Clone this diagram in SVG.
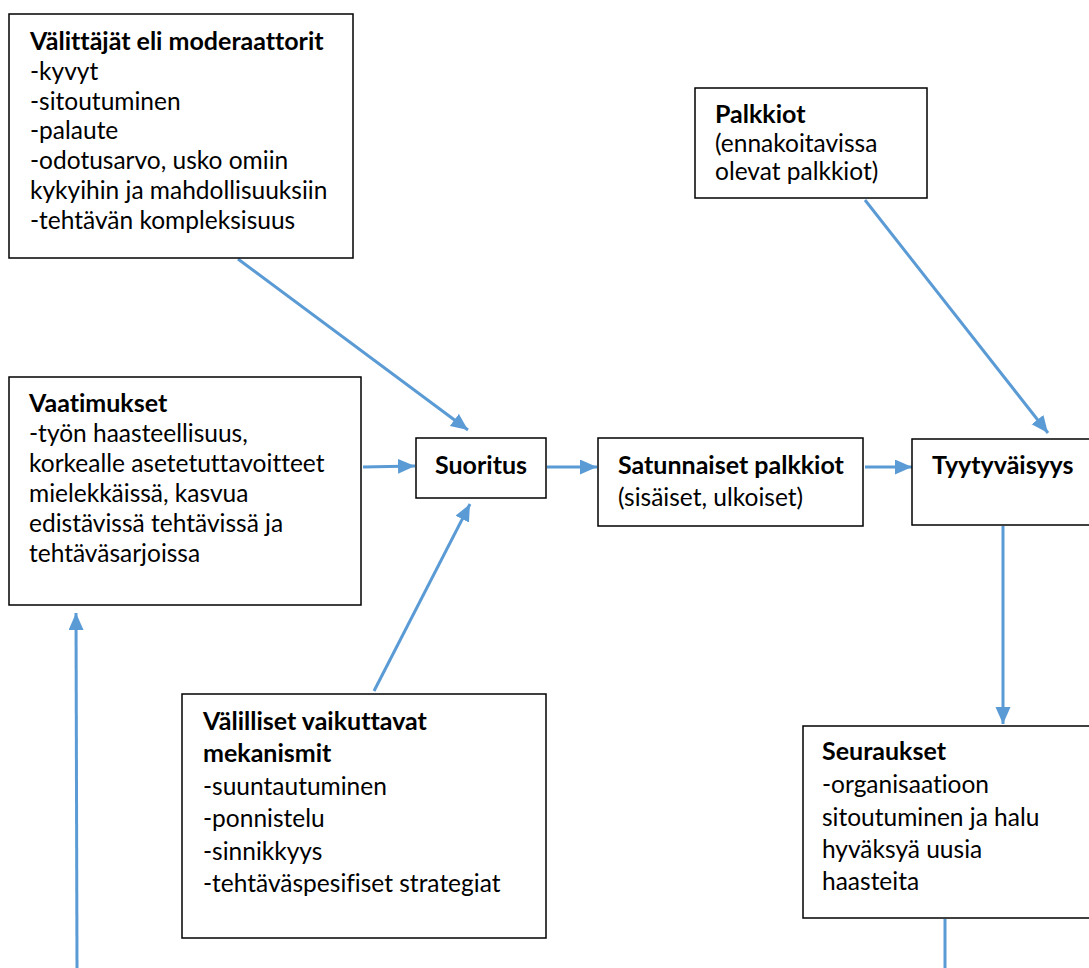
<svg xmlns="http://www.w3.org/2000/svg" width="1089" height="968" viewBox="0 0 1089 968">
<style>
.box{fill:#fff;stroke:#000;stroke-width:1.5}
text{font-family:Lato,"Liberation Sans",sans-serif;font-size:24.5px;fill:#000;font-variant-ligatures:none}
.b{font-weight:bold;font-size:25px}
.c{stroke:#5B9BD5;stroke-width:3;fill:none}
</style>
<defs>
<marker id="ah" markerUnits="userSpaceOnUse" markerWidth="18" markerHeight="16" refX="17" refY="7.5" orient="auto">
<path d="M0,0 L17,7.5 L0,15 z" fill="#5B9BD5"/>
</marker>
</defs>
<rect width="1089" height="968" fill="#fff"/>
<g id="connectors">
<line class="c" x1="238" y1="259" x2="468" y2="430" marker-end="url(#ah)"/>
<line class="c" x1="363" y1="467" x2="415" y2="466" marker-end="url(#ah)"/>
<line class="c" x1="374" y1="691" x2="470" y2="504" marker-end="url(#ah)"/>
<line class="c" x1="547" y1="467" x2="597" y2="467" marker-end="url(#ah)"/>
<line class="c" x1="865" y1="467" x2="912" y2="467" marker-end="url(#ah)"/>
<line class="c" x1="865" y1="200" x2="1048" y2="433" marker-end="url(#ah)"/>
<line class="c" x1="1003" y1="526" x2="1003" y2="724" marker-end="url(#ah)"/>
<line class="c" x1="945" y1="919" x2="945" y2="968"/>
<line class="c" x1="77" y1="968" x2="76" y2="613" marker-end="url(#ah)"/>
</g>
<g id="valittajat">
<rect class="box" x="9" y="14" width="344" height="244"/>
<text x="30" y="50" class="b">Välittäjät eli moderaattorit</text>
<text x="30" y="80">-kyvyt</text>
<text x="30" y="110">-sitoutuminen</text>
<text x="30" y="139">-palaute</text>
<text x="30" y="169">-odotusarvo, usko omiin</text>
<text x="30" y="199">kykyihin ja mahdollisuuksiin</text>
<text x="30" y="229">-tehtävän kompleksisuus</text>
</g>
<g id="vaatimukset">
<rect class="box" x="9" y="377" width="352" height="228"/>
<text x="29" y="412" class="b">Vaatimukset</text>
<text x="29" y="442">-työn haasteellisuus,</text>
<text x="29" y="472">korkealle asetetuttavoitteet</text>
<text x="29" y="502">mielekkäissä, kasvua</text>
<text x="29" y="532">edistävissä tehtävissä ja</text>
<text x="29" y="562">tehtäväsarjoissa</text>
</g>
<g id="suoritus">
<rect class="box" x="416" y="438" width="130" height="60"/>
<text x="435" y="474" class="b">Suoritus</text>
</g>
<g id="satunnaiset">
<rect class="box" x="598" y="438" width="265" height="88"/>
<text x="618" y="474" class="b">Satunnaiset palkkiot</text>
<text x="618" y="506">(sisäiset, ulkoiset)</text>
</g>
<g id="tyytyvaisyys">
<rect class="box" x="912" y="439" width="200" height="86"/>
<text x="932" y="474" class="b">Tyytyväisyys</text>
</g>
<g id="palkkiot">
<rect class="box" x="695" y="88" width="232" height="110"/>
<text x="715" y="123" class="b">Palkkiot</text>
<text x="715" y="152">(ennakoitavissa</text>
<text x="715" y="180">olevat palkkiot)</text>
</g>
<g id="valilliset">
<rect class="box" x="182" y="694" width="364" height="244"/>
<text x="203" y="730" class="b">Välilliset vaikuttavat</text>
<text x="203" y="762" class="b">mekanismit</text>
<text x="203" y="795">-suuntautuminen</text>
<text x="203" y="827">-ponnistelu</text>
<text x="203" y="860">-sinnikkyys</text>
<text x="203" y="892">-tehtäväspesifiset strategiat</text>
</g>
<g id="seuraukset">
<rect class="box" x="803" y="726" width="300" height="192"/>
<text x="822" y="760" class="b">Seuraukset</text>
<text x="822" y="793">-organisaatioon</text>
<text x="822" y="826">sitoutuminen ja halu</text>
<text x="822" y="858">hyväksyä uusia</text>
<text x="822" y="890">haasteita</text>
</g>
</svg>
